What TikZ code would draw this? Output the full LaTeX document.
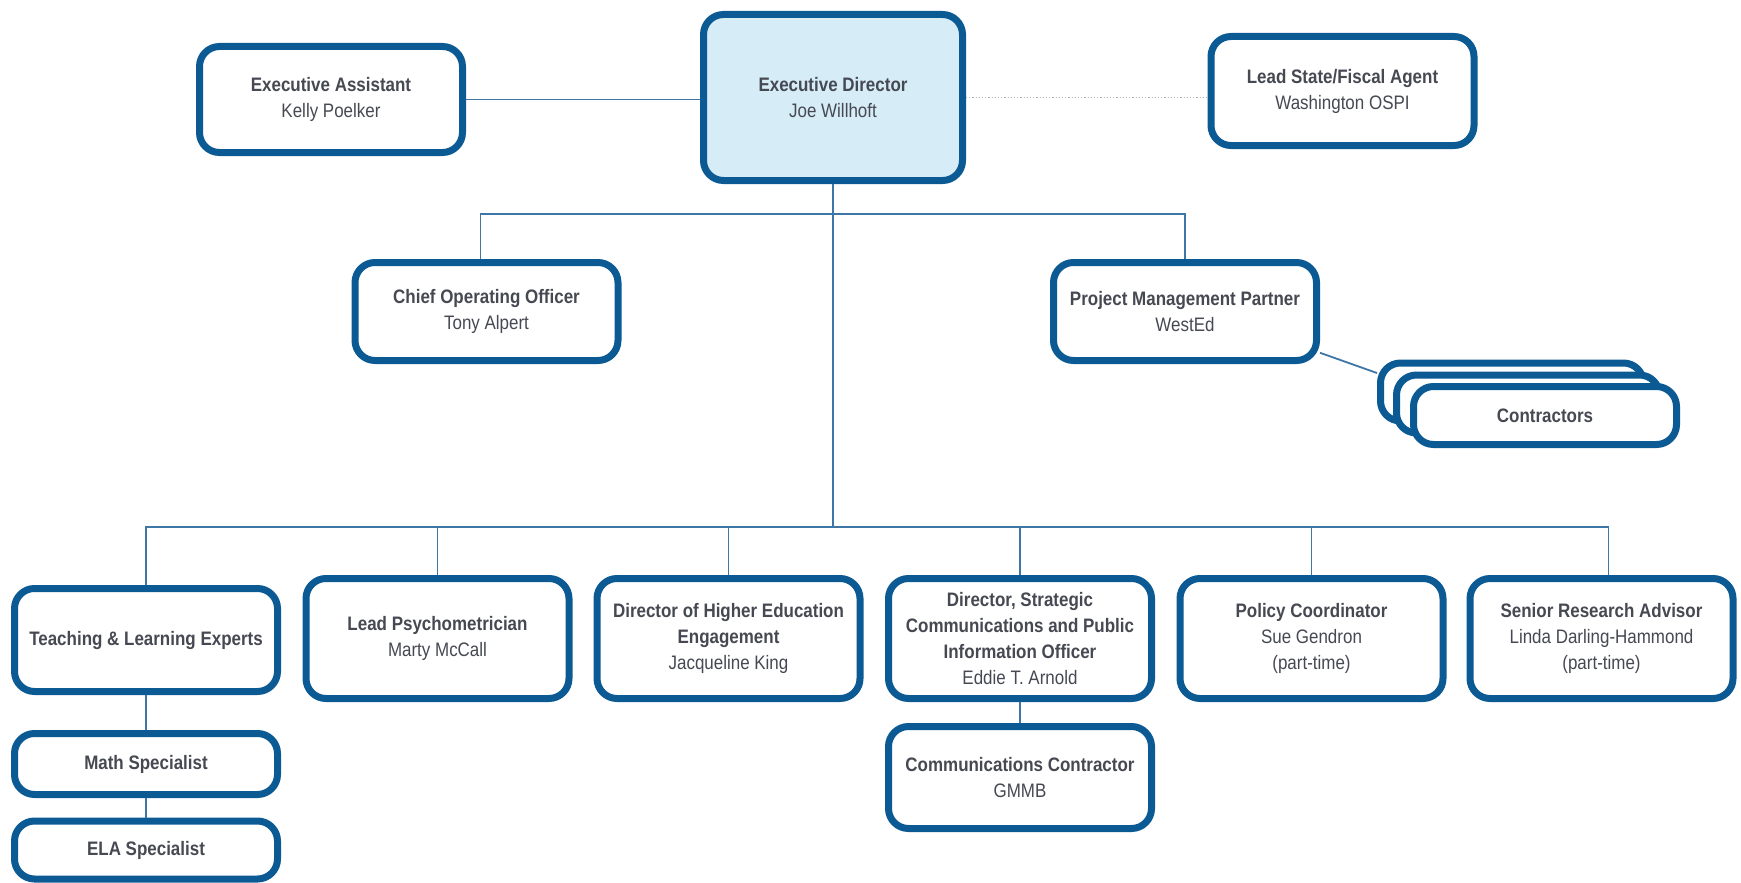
\documentclass[tikz,border=0pt]{standalone}
\usepackage{fontspec}
\setmainfont{Liberation Sans}[FakeStretch=0.87]
\definecolor{boxblue}{RGB}{12,90,148}
\definecolor{linkblue}{RGB}{62,118,166}
\definecolor{dotgrey}{RGB}{170,180,190}
\definecolor{headfill}{RGB}{214,236,247}
\definecolor{txtgrey}{RGB}{70,73,82}
\newcommand{\who}[1]{{\mdseries #1}}
\begin{document}
\begin{tikzpicture}[x=1pt, y=-1pt,
    box/.style={draw=boxblue, line width=7pt, rounded corners=20pt, fill=white,
      align=center, text=txtgrey, inner sep=2pt,
      font=\fontsize{19.5}{26}\selectfont\bfseries,
      minimum width=263pt, minimum height=#1},
    box/.default=100pt,
    link/.style={draw=linkblue, line width=1.8pt}]
  \useasboundingbox (0,0) rectangle (1741,883);
  \coordinate (topbus) at (0,214);
  \coordinate (lowbus) at (0,527);

  % top row
  \node[box=106pt] (EA) at (331,99.5) {Executive Assistant\\\who{Kelly Poelker}};
  \node[box=166pt, minimum width=259pt, fill=headfill] (ED) at (833,97.5) {Executive Director\\\who{Joe Willhoft}};
  \node[box=109pt] (LS) at (1342.5,91) {Lead State/Fiscal Agent\\\who{Washington OSPI}};

  % second row
  \node[box=98pt] (COO) at (486.5,311.5) {Chief Operating Officer\\\who{Tony Alpert}};
  \node[box=98pt] (PMP) at (1185,311.5) {Project Management Partner\\\who{WestEd}};
  \node[box=58pt] (ctrC) at (1512,392) {};
  \node[box=58pt] (ctrB) at (1528,404) {};
  \node[box=58pt] (ctrA) at (1545,415.5) {Contractors};

  % bottom row
  \node[box=103pt] (TL) at (146,640) {Teaching \& Learning Experts};
  \node[box=120pt] (LP) at (437.5,638.5) {Lead Psychometrician\\\who{Marty McCall}};
  \node[box=120pt] (DHE) at (728.5,638.5) {Director of Higher Education\\Engagement\\\who{Jacqueline King}};
  \node[box=120pt] (DSC) at (1020,638.5) {Director, Strategic\\Communications and Public\\Information Officer\\\who{Eddie T. Arnold}};
  \node[box=120pt] (PC) at (1311.5,638.5) {Policy Coordinator\\\who{Sue Gendron}\\\who{(part-time)}};
  \node[box=120pt] (SRA) at (1601.5,638.5) {Senior Research Advisor\\\who{Linda Darling-Hammond}\\\who{(part-time)}};

  \node[box=61pt] (MS) at (146,764) {Math Specialist};
  \node[box=58pt] (ELA) at (146,850) {ELA Specialist};
  \node[box=102pt] (CC) at (1020,777.5) {Communications Contractor\\\who{GMMB}};

  % connectors
  \draw[link] (EA.east) -- (EA.east -| ED.west);
  \draw[draw=dotgrey, line width=1.2pt, dotted] (ED.east) -- (ED.east -| LS.west);
  \draw[link] (ED.south) -- (ED.south |- lowbus);
  \draw[link] ([xshift=-6pt]COO.north) |- (PMP.north |- topbus) -- (PMP.north);
  \draw[link] (PMP.-17) -- (ctrC.172);
  \draw[link] (TL.north) |- ([xshift=7pt]SRA.north |- lowbus) -- ([xshift=7pt]SRA.north);
  \foreach \n in {LP,DHE,DSC,PC}
    \draw[link] (\n.north) -- (\n.north |- lowbus);
  \draw[link] (TL.south) -- (MS.north);
  \draw[link] (MS.south) -- (ELA.north);
  \draw[link] (DSC.south) -- (CC.north);
\end{tikzpicture}
\end{document}
